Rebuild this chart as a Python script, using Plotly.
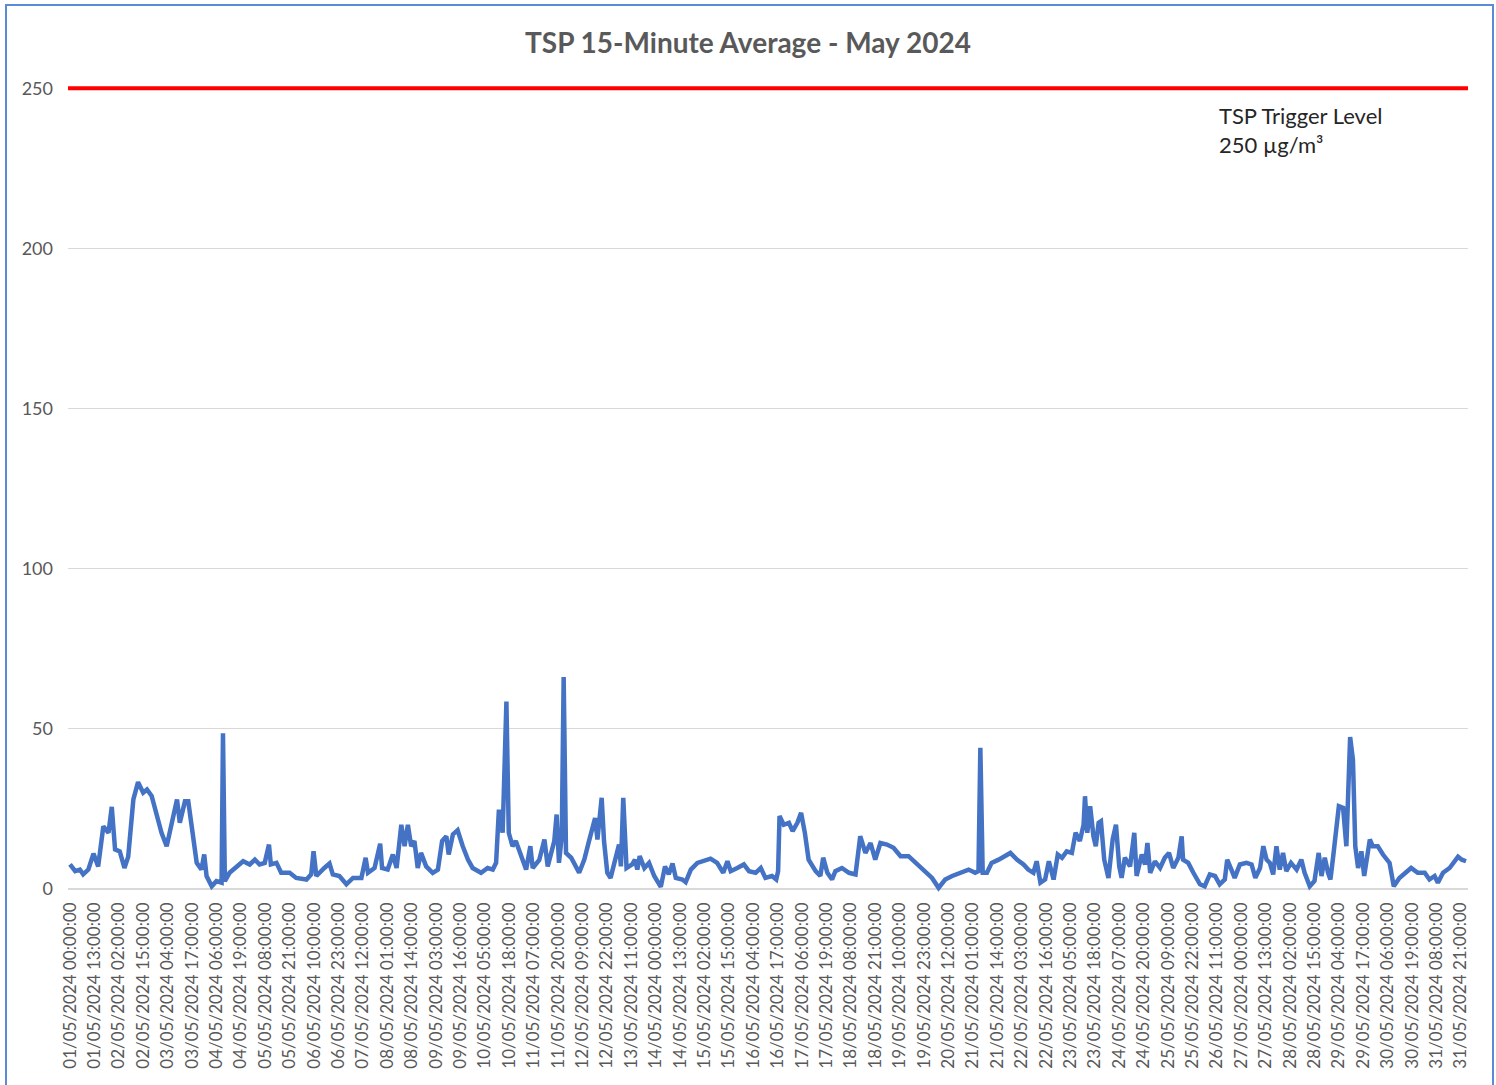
import pandas as pd
import plotly.graph_objects as go

# ---- data (hours since 01/05/2024 00:00, TSP µg/m³) ----
hours = [0, 2.75, 5.25, 7, 9.75, 12.5, 15, 17.75, 20.5, 22.25, 24, 26.5, 29, 31, 33.75, 36.25, 39, 41, 43.5, 46,
         48.75, 51.5, 54, 57, 58.5, 61.25, 63, 64.75, 67.5, 70, 71.5, 72.75, 75.5, 78, 80.75, 81.5, 82.5, 85, 88.75,
         92.25, 95.75, 98.5, 101, 103.75, 106, 107, 110, 112.5, 117, 120.5, 126, 128.5, 129.75, 131.25, 135.5,
         138.25, 140, 143.5, 147.25, 150.75, 155.25, 157.5, 158.75, 162.25, 165.25, 166.25, 169.25, 172, 174,
         176.5, 178.25, 180, 181.75, 183.5, 185.25, 187, 189.75, 193.25, 196, 198.25, 200.5, 201.75, 204, 206.5,
         209.25, 212, 214.5, 219, 222.5, 225.25, 227, 228.5, 230.5, 232.5, 233.75, 235.75, 237.5, 240.25, 243,
         245.25, 246.5, 250, 252.75, 254.5, 256.25, 258, 259.25, 260.5, 262, 263, 264.25, 267, 271.25, 274, 276.5,
         278, 279.75, 281, 283.25, 284.5, 286.25, 288, 290.75, 292.5, 293.5, 294.75, 296.5, 299.5, 301, 302.25,
         303.5, 306, 308.5, 311.25, 314.75, 317, 319, 321, 322.75, 326.25, 328, 330.75, 334.25, 337.75, 341.25,
         344.75, 348, 350.25, 352, 355.5, 359, 361.75, 365.25, 368, 370.5, 374, 376.25, 377.25, 378, 380.25, 383,
         385, 387.5, 389.5, 391.5, 393.5, 397.25, 399.75, 401.25, 403.5, 406, 407.75, 411.25, 415, 418.5, 421,
         423.75, 426.5, 429, 431.75, 435.25, 438.75, 442.5, 446.75, 450.5, 455.75, 459.25, 462.75, 466.25, 470,
         474.25, 478.75, 482.25, 484, 485, 486.25, 488.5, 491, 494.75, 498.25, 501, 504.5, 508, 510.5, 513.25, 515,
         517, 519.5, 521.5, 524, 526.25, 528.5, 531, 533.75, 535.75, 538, 540, 540.75, 542, 543.5, 545.25, 546.5,
         548, 549.25, 551, 553.25, 555.5, 557.25, 559, 560.25, 562, 564.75, 567, 568.25, 571, 572.75, 574, 575.5,
         578, 580.75, 583.25, 585.5, 587.75, 590.5, 592.25, 593, 595.75, 598.5, 602, 604.5, 607.25, 610, 612.5,
         615.25, 616.5, 618.75, 620.5, 623.25, 626.75, 629.5, 631.5, 634, 635.75, 637.5, 639.25, 641, 642.75,
         644.5, 646.25, 648, 650.5, 653.5, 656, 657.75, 660.5, 663, 665.25, 666.75, 668.5, 670.25, 671.5, 673,
         674.5, 676, 678.25, 680, 682, 683.5, 684.75, 686.25, 688, 689.5, 692.5, 694, 696.75, 699.5, 703, 705.25,
         708.25, 712, 714.5, 718, 721.75, 724.25, 727, 728.75, 731.5, 735, 739.5, 741.5, 743.75]

tsp = [7.6, 5.5, 6, 4.5, 6, 11, 7, 19.5, 17.5, 25.6, 12.3, 11.7, 6.5, 10, 27.9, 33.3, 30, 31, 29, 23.7,
       17.5, 13.3, 19.5, 27.9, 20.6, 27.3, 27.3, 19.5, 8.1, 6, 10.7, 4, 0.8, 2.4, 1.9, 48.6, 2.4, 5, 7,
       8.6, 7.6, 9.1, 7.6, 8.1, 13.8, 7.6, 8.1, 5, 5, 3.4, 2.9, 4.5, 11.7, 4, 6.5,
       7.9, 4.5, 4, 1.4, 3.4, 3.4, 9.7, 5, 6.5, 14.1, 6.5, 6, 10.7, 6.5,
       20, 13.3, 20, 13.3, 14.9, 6.5, 11.2, 7, 5, 6, 14.9, 16.4, 10.7, 17, 18.3,
       13.3, 9.1, 6.5, 5, 6.5, 6, 8.1, 24.7, 17.5, 58.5, 17.5, 13.3, 14.9, 10.2, 6,
       13.3, 6.5, 9, 15.4, 7, 11.2, 14.9, 23.2, 8.1, 16.4, 66.1, 11.2, 9.7, 5, 9.1, 14.9,
       19, 22.1, 15.4, 28.4, 14.9, 5, 3.4, 10.7, 13.8, 7, 28.4, 6.5, 7.6, 9.1, 6,
       10.2, 6.5, 8.1, 4, 0.6, 7, 4.5, 7.9, 3.4, 2.9, 2.1, 6, 8.1, 8.6, 9.4,
       8.1, 5, 8.6, 5.5, 6.5, 7.6, 5.5, 5, 6.5, 3.4, 4, 2.9, 5.5, 22.7, 20, 20.6,
       18, 20.6, 23.7, 17.5, 9.1, 5.5, 4, 9.7, 5, 2.9, 5.5, 6.5, 5, 4.5, 16.4,
       11.2, 14.3, 9.1, 14.3, 13.8, 12.8, 10.2, 10.2, 8.1, 5.5, 3.4, 0.3, 2.9, 4,
       5, 6, 5, 5.5, 44, 5, 5, 8.1, 9.1, 10.2, 11.2, 9.1, 7.6, 6, 5, 8.6,
       1.9, 2.9, 8.6, 2.9, 10.7, 9.7, 11.7, 11.2, 17.5, 14.9, 20, 28.9, 17.5, 25.8, 16.4, 13.3,
       20.6, 21.1, 9.1, 3.4, 15.4, 20, 7, 3.4, 9.7, 7, 17.5, 4, 10.7, 7.6, 14.3, 5,
       8.6, 6.5, 9.7, 11.2, 6.5, 9.7, 16.4, 9.1, 8.1, 5, 1.4, 0.8, 4.5, 4, 1.4,
       2.9, 9.1, 6, 3.4, 7.6, 8.1, 7.6, 3.4, 6.5, 13.3, 9.1, 8.1, 4.5, 13.3,
       6, 11.2, 5.5, 8.1, 6, 9.1, 5, 0.8, 2.4, 11.2, 4, 9.7, 5, 2.9, 10.2,
       18.5, 25.8, 25.3, 13.3, 47.4, 40.3, 13.3, 6.5, 11.7, 4, 15.4, 13.3, 13.3, 10.7, 8.1, 0.8,
       3.4, 5, 6.5, 5, 5, 2.9, 4, 1.9, 5, 6.5, 10, 9.1, 8.6]

TRIGGER_LEVEL = 250
TITLE = "TSP 15-Minute Average - May 2024"
TRIGGER_TEXT = "TSP Trigger Level<br>250 µg/m³"
y_ticks = [0, 50, 100, 150, 200, 250]

start = pd.Timestamp("2024-05-01 00:00:00")
times = start + pd.to_timedelta(hours, unit="h")
x_lo = start - pd.Timedelta(hours=1.07)
x_hi = start + pd.Timedelta(hours=744.8)
tick_times = pd.date_range(start, pd.Timestamp("2024-05-31 21:00:00"), freq="13h")

W, H = 1496, 1085
L, R, T, B = 68, 28, 85, 193

fig = go.Figure()
fig.add_trace(go.Scatter(x=times, y=tsp, mode="lines",
                         line=dict(color="#4472C4", width=4.5), name="TSP", showlegend=False,
                         hoverinfo="x+y"))
fig.add_trace(go.Scatter(x=[x_lo, x_hi], y=[TRIGGER_LEVEL, TRIGGER_LEVEL], mode="lines",
                         line=dict(color="#FF0000", width=4), name="TSP Trigger Level",
                         showlegend=False))

fig.update_layout(
    width=W, height=H,
    margin=dict(l=L, r=R, t=T, b=B),
    paper_bgcolor="white", plot_bgcolor="white",
    font=dict(family="Lato, 'Open Sans', sans-serif", color="#595959"),
    title=dict(text=f"<b>{TITLE}</b>", x=0.5, xref="container", xanchor="center",
               y=1 - 43 / H, yref="container", yanchor="middle",
               font=dict(size=28, color="#595959", family="Lato")),
    showlegend=False,
)

fig.update_xaxes(
    type="date", range=[x_lo, x_hi],
    tickmode="array", tickvals=list(tick_times),
    ticktext=[t.strftime("%d/%m/%Y %H:%M:%S") for t in tick_times],
    tickangle=-90, tickfont=dict(size=17, color="#595959", family="Lato"),
    showgrid=False, showline=False, zeroline=False, ticks="",
    ticklabelstandoff=6,
)
fig.update_yaxes(
    range=[-1, 251], tickmode="array", tickvals=y_ticks,
    tickfont=dict(size=18, color="#595959", family="Lato"),
    showgrid=True, gridcolor="#D9D9D9", gridwidth=1,
    zeroline=True, zerolinecolor="#D9D9D9", zerolinewidth=1.5,
    showline=False, ticks="", ticklabelstandoff=14,
)

plot_h = H - T - B
plot_w = W - L - R
fig.add_annotation(text=TRIGGER_TEXT, xref="paper", yref="paper",
                   x=(1217 - L) / plot_w, y=(H - B - 100) / plot_h,
                   xanchor="left", yanchor="top", align="left", showarrow=False,
                   font=dict(size=22, color="#262626", family="Lato"))

# outer chart border
fig.add_shape(type="rect", xref="paper", yref="paper",
              x0=(6 - L) / plot_w, x1=(1493 - L) / plot_w,
              y0=(H - B - 1090) / plot_h, y1=(H - B - 5) / plot_h,
              line=dict(color="#5B8BD6", width=2), fillcolor="rgba(0,0,0,0)", layer="below")

fig.write_html("out.html", config={"displayModeBar": False},
               post_script="document.body.style.margin='0';document.body.style.overflow='hidden';")
